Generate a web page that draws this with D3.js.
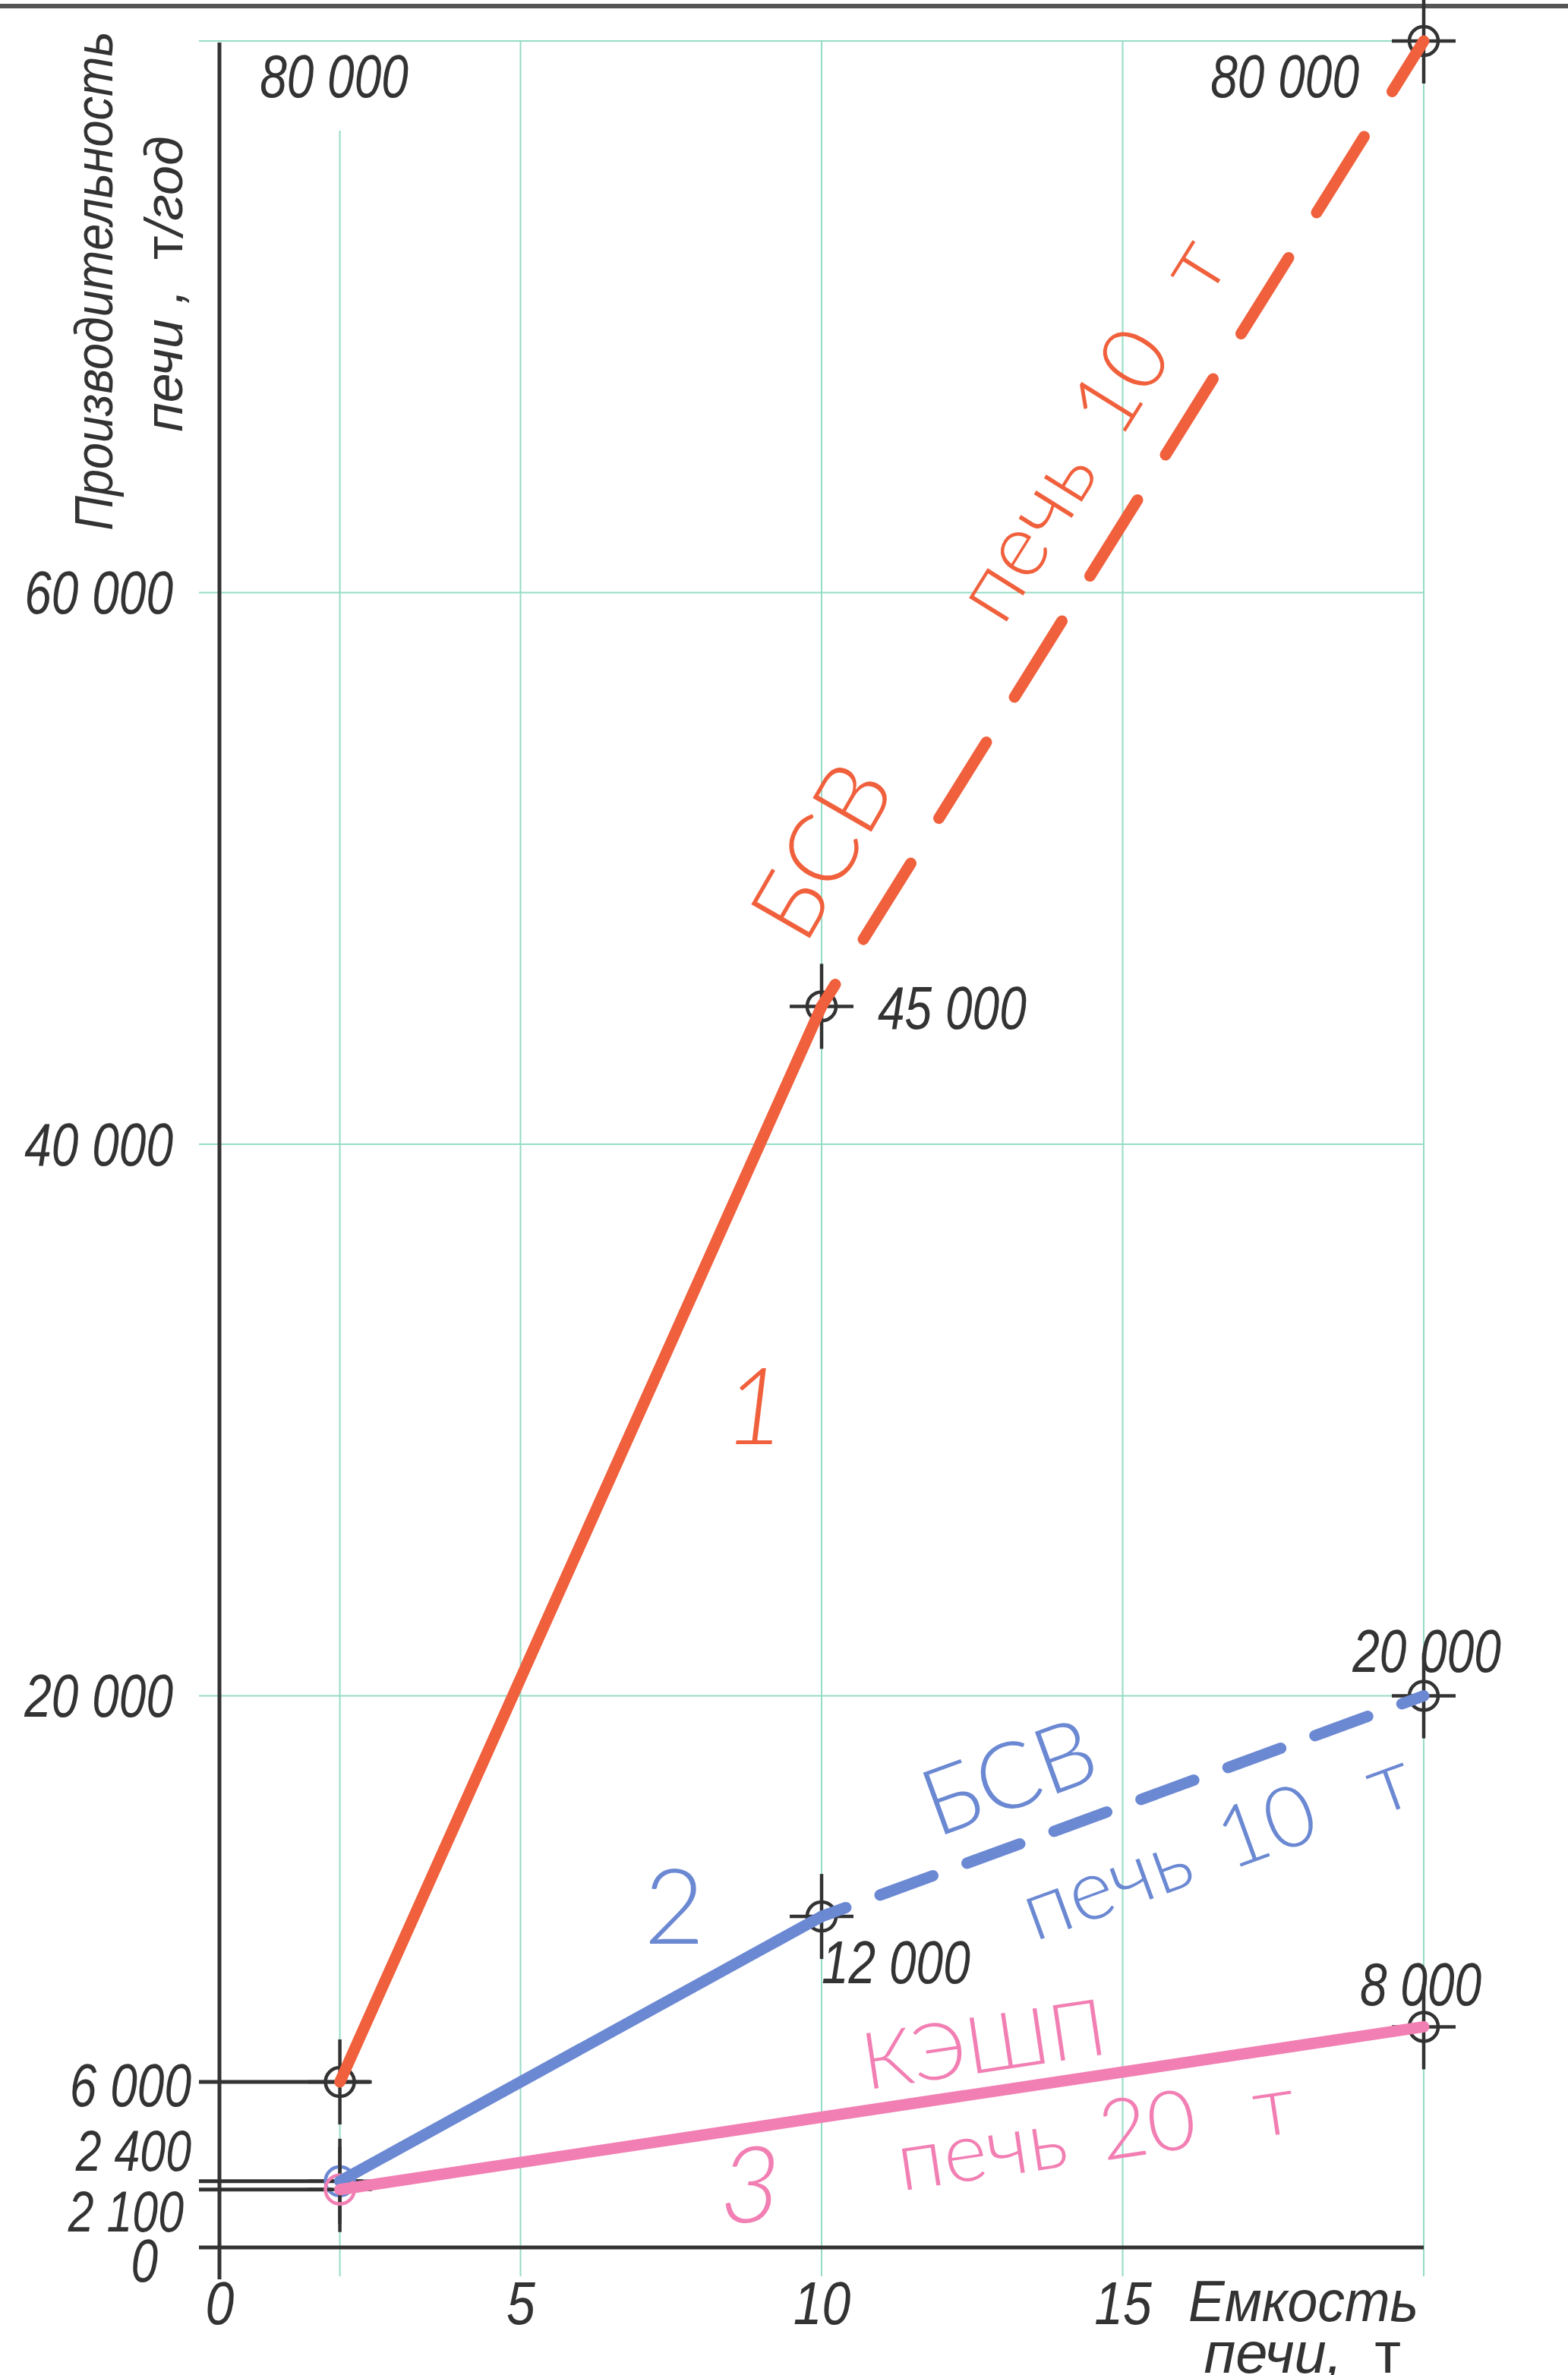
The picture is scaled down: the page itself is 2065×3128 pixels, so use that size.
<!DOCTYPE html>
<html>
<head>
<meta charset="utf-8">
<script src="https://cdn.jsdelivr.net/npm/d3@7"></script>
<style>
  html, body { margin: 0; padding: 0; background: #fff; }
  svg { display: block; }
  .num  { font-family: 'Liberation Sans', Arial, sans-serif; font-style: italic; fill: #333; }
  .ttl  { font-family: 'Liberation Sans', Arial, sans-serif; font-style: italic; fill: #333; white-space: pre; }
  .up   { font-style: normal; }
  .ann  { font-family: Lato, 'DejaVu Sans', sans-serif; font-weight: 300; white-space: pre; }
</style>
</head>
<body>
<svg id="chart"></svg>
<script>
/* Производительность печи vs ёмкость печи — three furnace curves */

// --- data ---
const CAPACITY_T     = [2, 10, 20];           // furnace capacity, t
const OUTPUT_BSV_1   = [6000, 45000, 80000];  // curve 1 (red), t/year
const OUTPUT_BSV_2   = [2400, 12000, 20000];  // curve 2 (blue), t/year
const CAPACITY_KESHP = [2, 20];
const OUTPUT_KESHP_3 = [2100, 8000];          // curve 3 (pink), t/year

const X_TICKS     = [0, 5, 10, 15];
const Y_TICKS     = [0, 2100, 2400, 6000, 20000, 40000, 60000, 80000];
const GRID_X      = [2, 5, 10, 15, 20];
const GRID_Y      = [20000, 40000, 60000, 80000];
const LEVEL_LINES = [2100, 2400, 6000];

const RED = '#f0603c', BLUE = '#6b88d2', PINK = '#f27fb3';
const INK = '#333', GRID = '#95dcc6';

const W = 2065, H = 3128;
const svg = d3.select('#chart').attr('width', W).attr('height', H);

const x = d3.scaleLinear().domain([0, 20]).range([289, 1875]);
const y = d3.scaleLinear().domain([0, 80000]).range([2960, 54]);

const fmt = d3.formatLocale({ decimal: ',', thousands: ' ', grouping: [3], currency: ['', ''] }).format(',');

// squeeze text horizontally to mimic the narrow drafting font
function condense(sel, k) {
  sel.each(function () {
    const len = this.getComputedTextLength();
    d3.select(this).attr('textLength', len * k).attr('lengthAdjust', 'spacingAndGlyphs');
  });
}

// sheet border at the top
svg.append('line').attr('x1', 0).attr('x2', W).attr('y1', 8).attr('y2', 8)
  .attr('stroke', '#555').attr('stroke-width', 6);

// --- grid ---
const grid = svg.append('g').attr('stroke', GRID).attr('stroke-width', 2);
grid.selectAll('line.gx').data(GRID_X).join('line').attr('class', 'gx')
  .attr('x1', d => x(d)).attr('x2', d => x(d))
  .attr('y1', d => d === 2 ? 172 : y(80000)).attr('y2', y(0) + 38);
grid.selectAll('line.gy').data(GRID_Y).join('line').attr('class', 'gy')
  .attr('x1', 262).attr('x2', x(20))
  .attr('y1', d => y(d)).attr('y2', d => y(d));

// --- axes ---
svg.append('line').attr('x1', x(0)).attr('x2', x(0)).attr('y1', y(80000) + 2).attr('y2', y(0) + 42)
  .attr('stroke', INK).attr('stroke-width', 5);
svg.append('line').attr('x1', 262).attr('x2', x(20)).attr('y1', y(0)).attr('y2', y(0))
  .attr('stroke', INK).attr('stroke-width', 5);

// x tick labels via d3 axis
const xAxis = svg.append('g').attr('transform', `translate(0,${y(0)})`)
  .call(d3.axisBottom(x).tickValues(X_TICKS).tickSize(0).tickPadding(44).tickFormat(d3.format('d')));
xAxis.select('.domain').remove();
xAxis.selectAll('text').attr('class', 'num').attr('font-size', 80).attr('fill', INK).attr('font-family', null)
  .call(condense, 0.85);

// leader lines from the axis to the starting points
const leaderEnd = { 2100: -10, 2400: 30, 6000: 40 };
svg.append('g').selectAll('line').data(LEVEL_LINES).join('line')
  .attr('x1', 262).attr('x2', d => x(2) + leaderEnd[d])
  .attr('y1', d => y(d)).attr('y2', d => y(d))
  .attr('stroke', INK).attr('stroke-width', 5);

// y tick labels (placed by hand-drafting convention)
const yLab = {
  0:     { x: 208, dy: 17,  a: 'end' },
  2100:  { x: 242, dy: 29,  a: 'end' },
  2400:  { x: 252, dy: -40, a: 'end' },
  6000:  { x: 252, dy: 4,   a: 'end' },
  20000: { x: 228, dy: 0,   a: 'end' },
  40000: { x: 228, dy: 0,   a: 'end' },
  60000: { x: 228, dy: 0,   a: 'end' },
  80000: { x: 440, dy: 46,  a: 'middle' }
};
svg.append('g').selectAll('text').data(Y_TICKS).join('text')
  .attr('class', 'num').attr('font-size', d => d === 2100 || d === 2400 ? 76 : 80)
  .attr('x', d => yLab[d].x).attr('y', d => y(d) + yLab[d].dy)
  .attr('text-anchor', d => yLab[d].a).attr('dominant-baseline', 'central')
  .text(d => fmt(d))
  .call(condense, 0.8);

// --- series ---
const series = [
  { xs: CAPACITY_T,     ys: OUTPUT_BSV_1,   color: RED,  solidTo: 1, dash: [118, 70], ring0: INK },
  { xs: CAPACITY_T,     ys: OUTPUT_BSV_2,   color: BLUE, solidTo: 1, dash: [74, 48],  ring0: BLUE },
  { xs: CAPACITY_KESHP, ys: OUTPUT_KESHP_3, color: PINK, solidTo: 1, dash: null,      ring0: PINK }
];

// crosshair markers
const pts = series.flatMap(s => s.xs.map((v, i) => ({ x: v, y: s.ys[i], ring: i === 0 ? s.ring0 : INK })));
const mk = svg.append('g').selectAll('g').data(pts).join('g')
  .attr('transform', d => `translate(${x(d.x)},${y(d.y)})`);
mk.append('line').attr('x1', -42).attr('x2', 42).attr('stroke', INK).attr('stroke-width', 4.5);
mk.append('line').attr('y1', -56).attr('y2', 56).attr('stroke', INK).attr('stroke-width', 4.5);
mk.append('circle').attr('r', 19).attr('fill', 'none').attr('stroke', d => d.ring).attr('stroke-width', 4.5);

const line = d3.line().x(d => x(d[0])).y(d => y(d[1]));
series.forEach(s => {
  const p = s.xs.map((v, i) => [v, s.ys[i]]);
  svg.append('path').attr('d', line(p.slice(0, s.solidTo + 1)))
    .attr('fill', 'none').attr('stroke', s.color).attr('stroke-width', 15).attr('stroke-linecap', 'round');
  if (p.length > s.solidTo + 1) {
    svg.append('path').attr('d', line(p.slice(s.solidTo)))
      .attr('fill', 'none').attr('stroke', s.color).attr('stroke-width', 15).attr('stroke-linecap', 'round')
      .attr('stroke-dasharray', s.dash.join(' ')).attr('stroke-dashoffset', s.dash[0] - 34);
  }
});

// --- point value labels ---
const pointLabels = [
  { x: 20, y: 80000, dx: -85, dy: 46,  a: 'end' },
  { x: 10, y: 45000, dx: 74,  dy: 2,   a: 'start' },
  { x: 10, y: 12000, dx: 0,   dy: 60,  a: 'start' },
  { x: 20, y: 20000, dx: 4,   dy: -59, a: 'middle' },
  { x: 20, y: 8000,  dx: -4,  dy: -56, a: 'middle' }
];
svg.append('g').selectAll('text').data(pointLabels).join('text')
  .attr('class', 'num').attr('font-size', 80)
  .attr('x', d => x(d.x) + d.dx).attr('y', d => y(d.y) + d.dy)
  .attr('text-anchor', d => d.a).attr('dominant-baseline', 'central')
  .text(d => fmt(d.y))
  .call(condense, 0.8);

// --- axis titles ---
svg.append('text').attr('class', 'ttl').attr('font-size', 70).attr('text-anchor', 'middle')
  .attr('dominant-baseline', 'central').attr('transform', 'translate(124,370) rotate(-90)')
  .text('Производительность').call(condense, 0.9);
const yt2 = svg.append('text').attr('class', 'ttl').attr('font-size', 70).attr('text-anchor', 'middle')
  .attr('dominant-baseline', 'central').attr('transform', 'translate(216,374) rotate(-90)');
yt2.append('tspan').text('печи ,  ');
yt2.append('tspan').attr('class', 'up').text('т');
yt2.append('tspan').text('/год');

svg.append('text').attr('class', 'ttl').attr('font-size', 76).attr('text-anchor', 'end')
  .attr('x', 1868).attr('y', 3030).attr('dominant-baseline', 'central').text('Емкость')
  .call(condense, 0.94);
const xt2 = svg.append('text').attr('class', 'ttl').attr('font-size', 76).attr('text-anchor', 'end')
  .attr('x', 1845).attr('y', 3098).attr('dominant-baseline', 'central');
xt2.append('tspan').text('печи,  ');
xt2.append('tspan').attr('class', 'up').text('т');

// --- curve annotations ---
function ann(parts, cx, cy, rot, size, color, italic) {
  const t = svg.append('text').attr('class', 'ann').attr('fill', color).attr('font-size', size)
    .attr('text-anchor', 'middle').attr('dominant-baseline', 'central')
    .attr('font-style', italic ? 'italic' : null)
    .attr('transform', `translate(${cx},${cy}) rotate(${rot})`);
  parts.forEach((p, i) => t.append('tspan').attr('dx', i ? p[1] + 'em' : null).text(p[0]));
}
ann([['БСВ']], 1078, 1118, -60, 126, RED);
ann([['печь'], ['10', 0.4], ['т', 0.7]], 1432, 562, -58, 118, RED);
ann([['1']], 994, 1848, 0, 140, RED, true);

ann([['БСВ']], 1327, 2336, -20, 122, BLUE);
ann([['печь'], ['10', 0.4], ['т', 0.7]], 1600, 2424, -20, 112, BLUE);
ann([['2']], 888, 2506, 0, 138, BLUE);

ann([['КЭШП']], 1295, 2688, -8.5, 104, PINK);
ann([['печь'], ['20', 0.4], ['т', 0.7]], 1442, 2804, -8.5, 110, PINK);
ann([['3']], 988, 2873, 0, 140, PINK, true);
</script>
</body>
</html>
